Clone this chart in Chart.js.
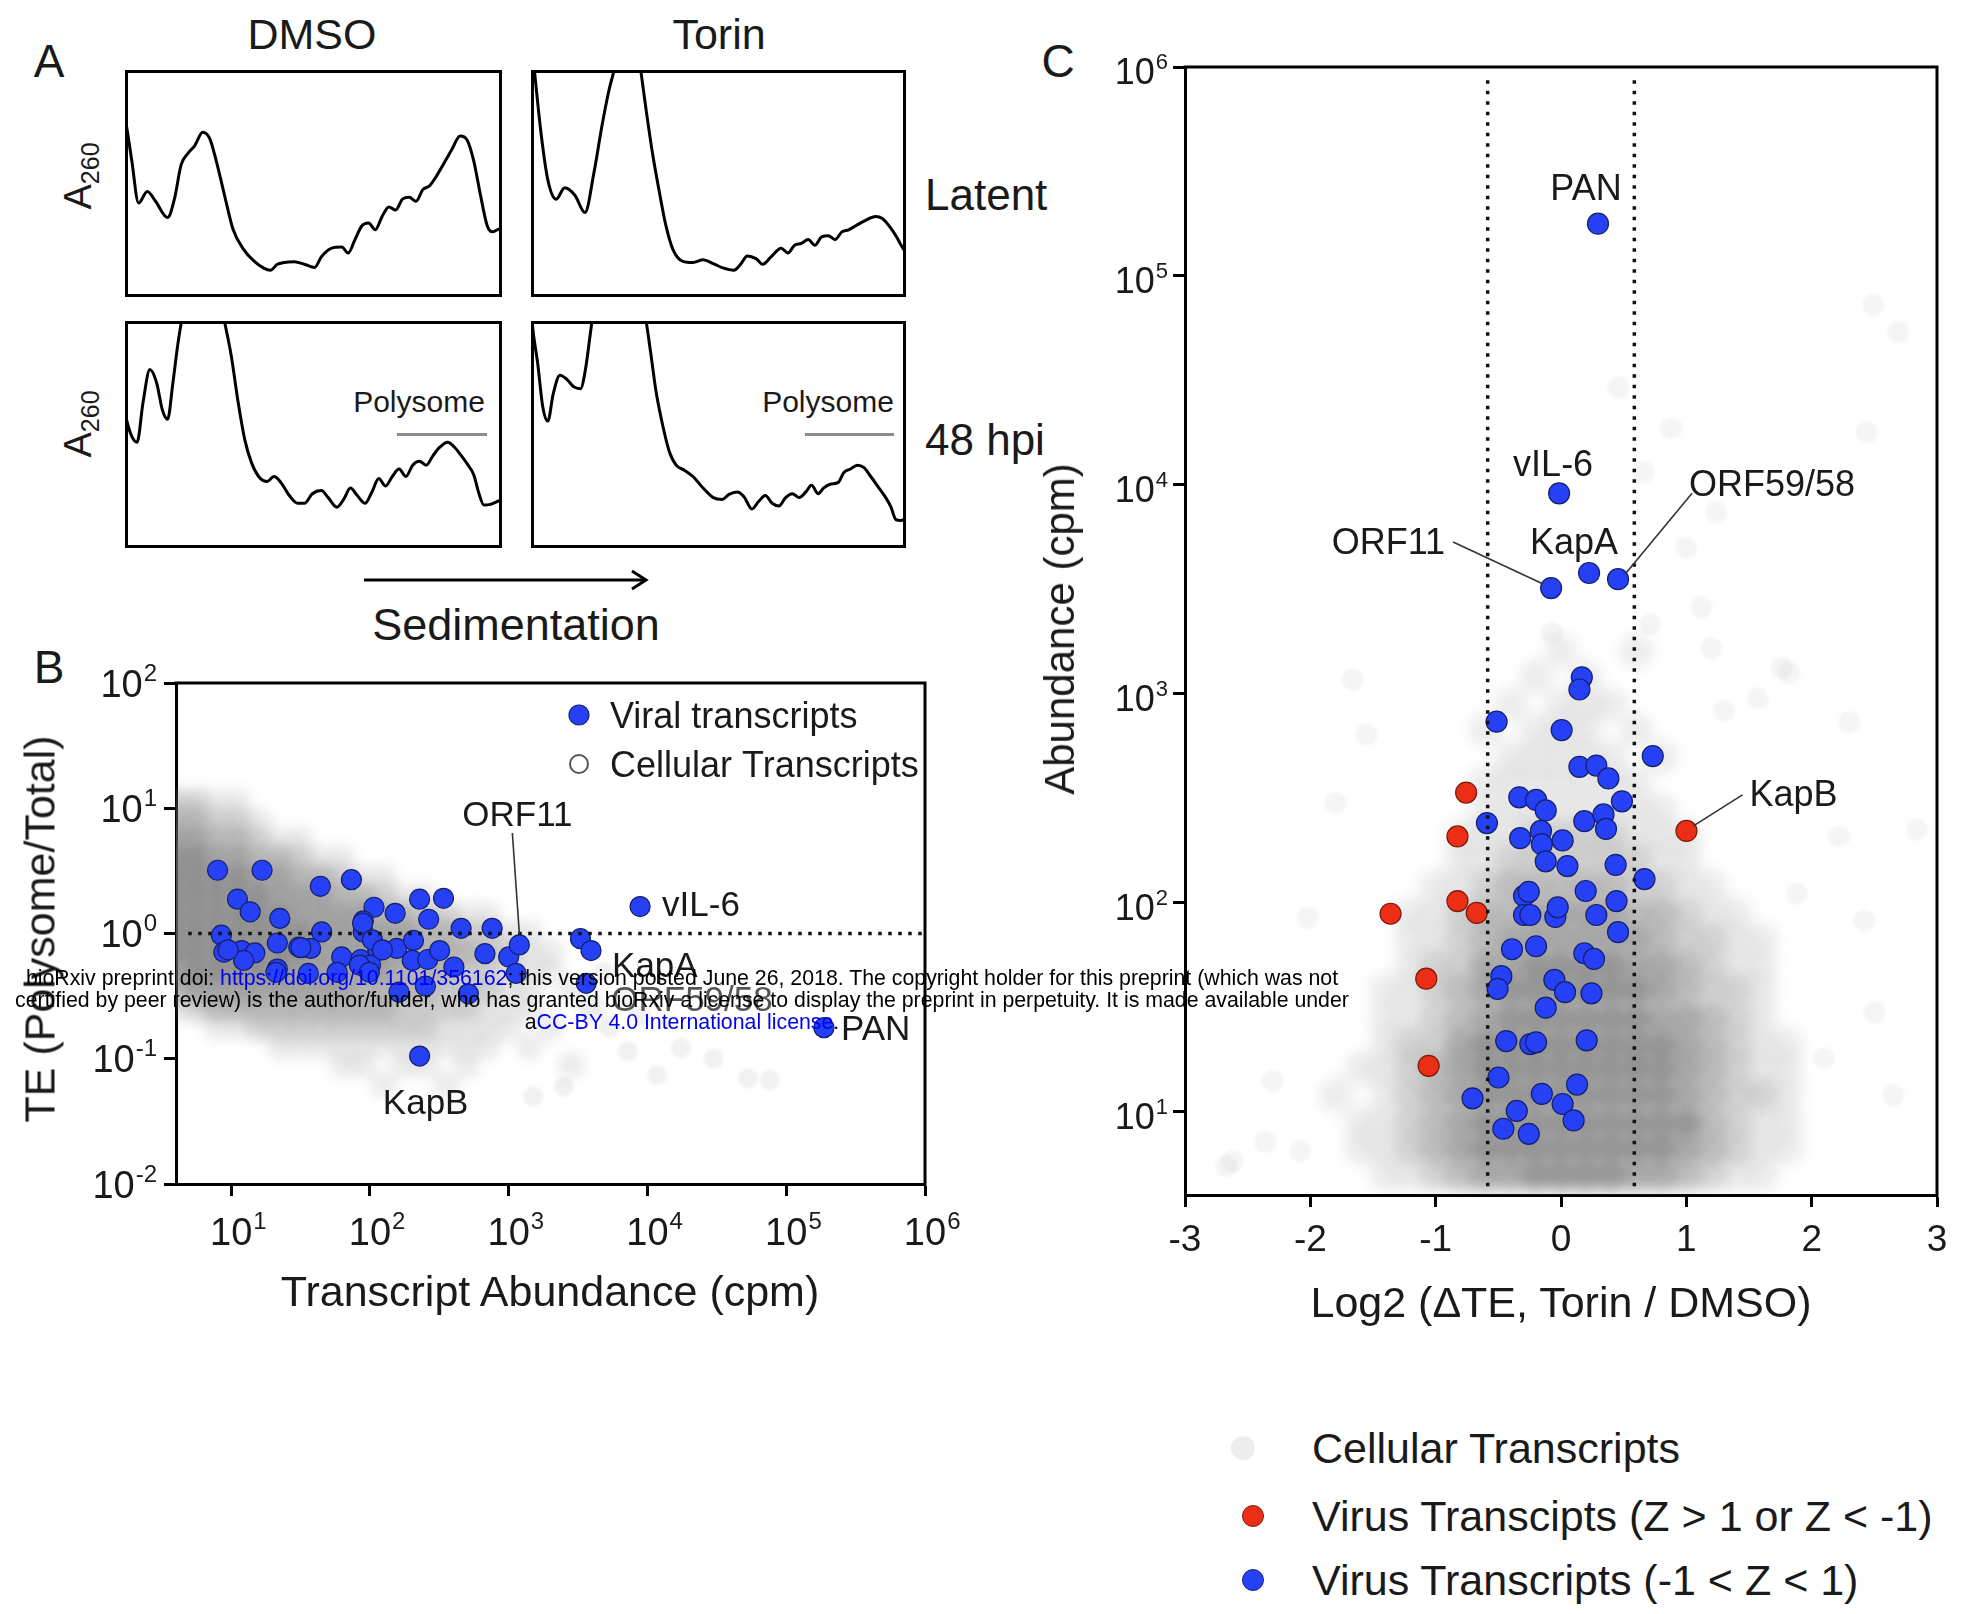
<!DOCTYPE html>
<html>
<head>
<meta charset="utf-8">
<title>Polysome profiles and translation efficiency of KSHV transcripts</title>
<script src="https://cdn.jsdelivr.net/npm/chart.js@4.4.1/dist/chart.umd.min.js"></script>
<style>
  html, body { margin: 0; background: #fff; }
  #fig { position: relative; width: 1969px; height: 1614px; overflow: hidden;
         font-family: "Liberation Sans", Arial, Helvetica, sans-serif; color: #1a1a1a; }
  .t { position: absolute; white-space: nowrap; line-height: 1; transform: translate(-50%, -50%); }
  .l { position: absolute; white-space: nowrap; line-height: 1; transform: translate(0, -50%); }
  .rot { transform: translate(-50%, -50%) rotate(-90deg); }
  canvas { position: absolute; }
  .dot { position: absolute; border-radius: 50%; transform: translate(-50%, -50%); box-sizing: border-box; }
  .bar { position: absolute; height: 3px; background: #8c8c8c; }
  #note { position: absolute; left: 0; top: 967px; width: 1364px; text-align: center; font-size: 21.3px;
          line-height: 22px; color: #000; white-space: nowrap; z-index: 5; }
  #note span.u { color: #0000ee; }
</style>
</head>
<body>
<div id="fig">
  <!-- panel letters -->
  <div class="t" style="left:49px;top:61px;font-size:46px">A</div>
  <div class="t" style="left:49px;top:667px;font-size:46px">B</div>
  <div class="t" style="left:1058px;top:61px;font-size:46px">C</div>

  <!-- panel A labels -->
  <div class="t" style="left:312px;top:34px;font-size:43px">DMSO</div>
  <div class="t" style="left:719px;top:34px;font-size:43px">Torin</div>
  <div class="l" style="left:925px;top:195px;font-size:44px">Latent</div>
  <div class="l" style="left:925px;top:440px;font-size:44px">48 hpi</div>
  <div class="t rot" style="left:81px;top:176px;font-size:38px">A<sub style="font-size:25px">260</sub></div>
  <div class="t rot" style="left:81px;top:424px;font-size:38px">A<sub style="font-size:25px">260</sub></div>
  <div class="t" style="left:419px;top:402px;font-size:30px">Polysome</div>
  <div class="bar" style="left:397px;top:433px;width:90px"></div>
  <div class="t" style="left:828px;top:402px;font-size:30px">Polysome</div>
  <div class="bar" style="left:805px;top:433px;width:89px"></div>
  <svg style="position:absolute;left:0;top:0" width="700" height="620">
    <line x1="364" y1="580" x2="645" y2="580" stroke="#000" stroke-width="3"/>
    <polyline points="632,571 646,580 632,589" fill="none" stroke="#000" stroke-width="3"/>
  </svg>
  <div class="t" style="left:516px;top:624px;font-size:45px">Sedimentation</div>

  <canvas id="aDmsoLatent" width="377" height="227" style="left:125px;top:70px"></canvas>
  <canvas id="aTorinLatent" width="375" height="227" style="left:531px;top:70px"></canvas>
  <canvas id="aDmsoLytic" width="377" height="227" style="left:125px;top:321px"></canvas>
  <canvas id="aTorinLytic" width="375" height="227" style="left:531px;top:321px"></canvas>

  <!-- panel B -->
  <canvas id="panelB" width="1000" height="700" style="left:0;top:650px"></canvas>
  <div class="t rot" style="left:40px;top:929px;font-size:43px">TE (Polysome/Total)</div>
  <div class="t" style="left:550px;top:1291px;font-size:43px">Transcript Abundance (cpm)</div>

  <!-- panel C -->
  <canvas id="panelC" width="949" height="1340" style="left:1020px;top:0"></canvas>
  <div class="t rot" style="left:1060px;top:629px;font-size:42px">Abundance (cpm)</div>
  <div class="t" style="left:1561px;top:1302px;font-size:43px">Log2 (ΔTE, Torin / DMSO)</div>

  <!-- panel C key -->
  <div class="dot" style="left:1243px;top:1448px;width:24px;height:24px;background:#ededed"></div>
  <div class="l" style="left:1312px;top:1448px;font-size:43px">Cellular Transcripts</div>
  <div class="dot" style="left:1253px;top:1516px;width:22px;height:22px;background:rgb(236,46,22);border:1px solid #7a1a0a"></div>
  <div class="l" style="left:1312px;top:1516px;font-size:43px">Virus Transcipts (Z &gt; 1 or Z &lt; -1)</div>
  <div class="dot" style="left:1253px;top:1580px;width:22px;height:22px;background:rgb(38,64,245);border:1px solid #14206e"></div>
  <div class="l" style="left:1312px;top:1580px;font-size:43px">Virus Transcripts (-1 &lt; Z &lt; 1)</div>

  <div id="note">bioRxiv preprint doi: <span class="u">https://doi.org/10.1101/356162</span>; this version posted June 26, 2018. The copyright holder for this preprint (which was not<br>certified by peer review) is the author/funder, who has granted bioRxiv a license to display the preprint in perpetuity. It is made available under<br>a<span class="u">CC-BY 4.0 International license</span>.</div>
</div>

<script>
var FONT = '"Liberation Sans", Arial, Helvetica, sans-serif';
var INK = '#1a1a1a';
var BLUE = 'rgb(38, 64, 245)';
var RED = 'rgb(236, 46, 22)';

// ---- A: A260 traces, position along the gradient (%) and absorbance (% of frame height)
var dmsoLatentPos = [0, 0.4, 1.8, 3.6, 5.9, 8.1, 11.3, 13.1, 14.9, 16.7, 18.5, 20.6, 22.4, 24.2, 26.4, 28.7, 31.4, 34.1, 36.8, 38.6, 40.4, 42.2, 44.9, 47.6, 50.3, 52.1, 54.8, 57.5, 59.2, 61.0, 62.8, 64.6, 66.4, 68.2, 70.0, 71.8, 73.6, 75.4, 77.2, 79.0, 80.8, 82.6, 84.4, 86.7, 88.9, 90.7, 92.5, 94.3, 96.1, 97.5, 98.7, 100];
var dmsoLatentA260 = [78, 75.2, 60.0, 41.4, 46.5, 42.2, 35.0, 43.1, 58.3, 63.3, 66.7, 72.6, 70.1, 60.0, 44.8, 29.6, 21.1, 16.0, 12.7, 11.8, 14.4, 15.2, 15.5, 14.4, 13.0, 17.7, 21.5, 22.0, 19.4, 25.3, 31.3, 32.6, 29.6, 35.5, 39.7, 38.3, 43.1, 43.9, 42.2, 47.3, 49.0, 53.2, 58.3, 65.0, 70.9, 69.3, 60.0, 44.8, 31.3, 28.7, 29.6, 30.4];

var torinLatentPos = [0, 0.9, 2.7, 4.5, 6.7, 9.0, 11.7, 14.4, 16.8, 18.9, 20.7, 22.9, 25.8, 28.8, 30.6, 32.4, 34.2, 36.0, 37.8, 40.5, 43.2, 45.9, 48.6, 51.4, 54.1, 55.9, 57.7, 60.0, 61.8, 64.0, 66.7, 68.5, 70.3, 72.1, 73.9, 75.7, 77.5, 79.3, 81.1, 82.9, 84.7, 86.5, 89.2, 91.9, 93.7, 95.5, 97.3, 98.7, 100];
var torinLatentA260 = [115, 100, 71.8, 51.5, 43.1, 48.1, 44.8, 37.2, 54.9, 75.2, 90.4, 105.6, 140, 105.6, 83.6, 63.3, 46.5, 31.3, 21.1, 15.7, 15.2, 16.4, 14.7, 12.7, 11.8, 14.4, 18.1, 16.9, 14.4, 17.7, 21.5, 19.4, 22.8, 23.6, 25.3, 22.8, 26.5, 27.0, 25.3, 28.7, 29.6, 31.3, 33.8, 35.5, 34.6, 31.3, 27.0, 22.8, 19.4];

var dmsoLyticPos = [0, 0.5, 1.8, 3.2, 4.8, 6.6, 8.4, 9.9, 11.3, 12.7, 14.0, 15.3, 20.6, 26.0, 28.2, 30.0, 31.8, 33.6, 35.9, 37.7, 39.5, 41.3, 43.6, 45.8, 47.6, 49.7, 52.1, 53.9, 56.2, 58.0, 59.8, 61.6, 63.7, 65.5, 67.3, 69.1, 70.9, 72.7, 74.5, 76.3, 78.1, 79.9, 81.7, 83.5, 85.6, 87.4, 89.2, 91.0, 92.5, 93.9, 95.2, 96.9, 100];
var dmsoLyticA260 = [60, 55.9, 49.2, 46.6, 64.3, 78.6, 72.7, 60.9, 56.7, 72.7, 89.6, 103, 150, 103, 84.5, 64.3, 47.5, 37.4, 30.6, 29.3, 31.5, 29.0, 23.1, 19.7, 19.7, 23.9, 25.3, 22.2, 18.0, 21.4, 26.4, 23.1, 19.7, 24.7, 30.6, 27.3, 31.5, 34.8, 31.5, 36.5, 38.2, 36.5, 40.7, 44.4, 46.6, 44.4, 40.7, 36.5, 32.3, 23.9, 18.9, 19.2, 21.4];

var torinLyticPos = [0, 0.5, 1.8, 3.1, 4.5, 5.9, 7.7, 9.5, 11.4, 13.2, 14.6, 15.7, 16.8, 23.4, 30.1, 31.9, 33.3, 35.1, 36.9, 38.7, 40.9, 43.2, 45.9, 48.6, 51.0, 52.8, 55.0, 56.8, 58.9, 60.7, 62.5, 64.3, 66.1, 67.9, 69.7, 71.5, 73.3, 74.8, 76.6, 78.0, 79.8, 82.0, 83.4, 85.2, 87.0, 88.8, 90.6, 92.8, 94.6, 96.0, 97.3, 98.6, 100];
var torinLyticA260 = [105, 96.3, 81.1, 62.6, 55.9, 67.7, 76.1, 74.4, 71.0, 70.2, 79.5, 92.9, 106, 150, 106, 86.2, 69.4, 54.2, 42.4, 36.5, 34.3, 31.5, 26.4, 22.2, 21.4, 23.6, 24.7, 22.6, 17.2, 20.5, 23.1, 19.7, 18.5, 22.2, 23.9, 22.2, 24.7, 27.6, 23.9, 26.4, 28.1, 29.0, 33.2, 34.8, 36.5, 35.4, 31.5, 26.4, 22.2, 18.0, 12.5, 12.1, 13.0];

// ---- B: viral transcripts, abundance (cpm) vs TE
var viralAbundanceB = [7.98, 16.7, 43.9, 73.5, 11.1, 13.7, 22.4, 228, 339, 107, 152, 89.6, 265, 454, 760,
  8.5, 8.85, 11.9, 14.8, 12.3, 21.5, 30.7, 37.4, 44.9, 62.6, 86, 89.5, 114, 156, 206, 202, 261, 318, 403, 674, 1000, 3290,
  21.5, 36, 58, 101, 162, 251, 512, 1130,
  88.5, 104, 123, 84, 99, 31.8, 9.5, 21];
var viralTEB = [3.20, 3.20, 2.38, 2.69, 1.88, 1.49, 1.32, 1.88, 1.91, 1.62, 1.45, 1.26, 1.30, 1.10, 1.10,
  0.97, 0.71, 0.73, 0.70, 0.61, 0.84, 0.78, 0.76, 1.03, 0.65, 0.62, 1.03, 0.73, 0.76, 0.88, 0.61, 0.62, 0.73, 0.54, 0.69, 0.65, 0.91,
  0.52, 0.48, 0.49, 0.56, 0.34, 0.38, 0.33, 0.48,
  1.21, 0.89, 0.74, 0.56, 0.49, 0.77, 0.74, 0.49];
var namesB = ['vIL-6', 'ORF11', 'KapA', 'ORF59/58', 'PAN', 'KapB'];
var namedAbundanceB = [8850, 1193, 3920, 3620, 187000, 228];
var namedTEB = [1.64, 0.81, 0.73, 0.40, 0.177, 0.105];

// cellular transcripts in B, binned: column abundance, row TE, relative density 0-5
var cellAbundanceB = [4.0, 5.6, 7.9, 11.2, 15.8, 22.4, 31.6, 44.7, 63, 89, 126, 178, 251, 355, 501, 708, 1000, 1410, 2000, 2820, 3980];
var cellTEB = [11.2, 7.94, 5.62, 3.98, 2.82, 2.0, 1.41, 1.0, 0.708, 0.501, 0.355, 0.251, 0.178, 0.126, 0.089, 0.063];
var cellDensityB = [
  [2,2,1,1,0,0,0,0,0,0,0,0,0,0,0,0,0,0,0,0,0],
  [3,3,2,2,1,0,0,0,0,0,0,0,0,0,0,0,0,0,0,0,0],
  [4,4,3,3,2,1,1,0,0,0,0,0,0,0,0,0,0,0,0,0,0],
  [5,5,4,4,3,3,2,1,1,0,0,0,0,0,0,0,0,0,0,0,0],
  [5,5,5,5,4,4,3,3,2,1,1,0,0,0,0,0,0,0,0,0,0],
  [5,5,5,5,5,4,4,4,3,3,2,1,1,0,0,0,0,0,0,0,0],
  [5,5,5,5,5,5,4,4,4,4,3,3,2,2,1,1,0,0,0,0,0],
  [5,5,5,5,5,5,5,4,4,4,4,4,3,3,2,2,1,1,0,0,0],
  [5,5,5,5,5,5,5,4,4,4,4,4,3,3,3,2,2,1,1,0,0],
  [4,5,5,5,5,5,4,4,4,4,4,3,3,3,2,2,1,1,1,0,0],
  [3,4,4,4,4,4,4,4,4,3,3,3,3,2,2,2,1,1,0,1,0],
  [1,2,3,3,3,3,3,3,3,3,3,2,2,2,2,1,1,1,0,0,1],
  [0,0,1,1,2,2,2,2,2,2,2,2,2,1,1,1,1,0,1,0,0],
  [0,0,0,0,0,1,1,1,1,1,1,1,1,1,1,1,0,1,0,0,0],
  [0,0,0,0,0,0,0,0,1,1,0,1,1,0,1,0,0,0,0,1,0],
  [0,0,0,0,0,0,0,0,0,0,1,0,0,1,0,0,0,0,0,0,0]
];
var strayAbundanceB = [7200, 17400, 11700, 53000, 76000, 5300, 6500, 9000, 4800, 30000, 2500, 1500];
var strayTEB = [0.115, 0.122, 0.074, 0.07, 0.068, 0.177, 0.3, 0.22, 0.5, 0.1, 0.06, 0.05];

// ---- C: change in TE (log2) vs abundance
var blueLog2C = [0.166, 0.147, -0.514, 0.005, 0.732, 0.147, 0.282, 0.378, -0.333, -0.199, -0.122, 0.486, -0.591, 0.186, 0.339, 0.359, -0.326, -0.160, 0.013, -0.153, -0.122, 0.051, 0.436, 0.666, -0.295, -0.257, 0.197, 0.443, -0.295, -0.245, -0.045, -0.026, 0.282, 0.455, -0.391, -0.199, 0.186, 0.263, -0.476, -0.506, -0.053, 0.032, 0.243, -0.122, -0.437, -0.245, -0.199, 0.205, -0.499, -0.706, -0.153, 0.128, 0.013, -0.353, 0.101, -0.460, -0.257];
var blueAbundanceC = [1200, 1050, 736, 671, 504, 448, 454, 394, 320, 311, 277, 306, 241, 246, 265, 226, 204, 221, 199, 191, 158, 150, 152, 130, 108, 113, 114, 102, 87.5, 87.5, 85.7, 95.2, 87.5, 72.4, 60, 62, 57.4, 53.9, 44.6, 38.8, 42.8, 37.4, 36.9, 31.5, 21.8, 21.1, 21.5, 22.0, 14.6, 11.6, 12.2, 13.5, 10.9, 10.1, 9.1, 8.3, 7.85];
var redLog2C = [-0.757, -0.826, -0.826, -0.672, -1.360, -1.075, -1.056];
var redAbundanceC = [337, 208, 102, 89.5, 88.7, 43.4, 16.6];
var namesC = ['PAN', 'vIL-6', 'KapA', 'ORF11', 'ORF59/58', 'KapB'];
var namedLog2C = [0.295, -0.015, 0.224, -0.079, 0.455, 1.001];
var namedAbundanceC = [178000, 9120, 3790, 3210, 3540, 221];
var namedRedC = [false, false, false, false, false, true];

// cellular transcripts in C, binned: column log2 change, row abundance, relative density 0-5
var cellLog2C = [-2.0, -1.8, -1.6, -1.4, -1.2, -1.0, -0.8, -0.6, -0.4, -0.2, 0, 0.2, 0.4, 0.6, 0.8, 1.0, 1.2, 1.4, 1.6, 1.8, 2.0, 2.2];
var cellAbundanceC = [5, 6.7, 8.9, 12, 16, 21, 28, 38, 50, 67, 89, 120, 160, 210, 280, 380, 500, 670, 890, 1200, 1600];
var cellDensityC = [
  [0,0,0,1,1,2,3,4,4,5,5,5,5,4,4,3,2,1,1,0,0,0],
  [0,0,1,1,2,3,4,5,5,5,5,5,5,5,5,4,3,2,1,1,0,0],
  [0,0,1,1,2,3,4,5,5,5,5,5,5,5,5,5,3,2,1,1,0,0],
  [0,1,0,1,2,3,4,5,5,5,5,5,5,5,5,4,3,2,2,1,0,0],
  [0,0,1,1,2,3,4,5,5,5,5,5,5,5,5,4,3,2,1,1,0,0],
  [0,0,0,1,2,2,4,5,5,5,5,5,5,5,5,4,3,2,1,1,0,0],
  [0,0,0,1,1,2,3,4,5,5,5,5,5,5,4,4,3,2,1,0,0,0],
  [0,0,0,1,1,2,3,4,5,5,5,5,5,5,4,3,2,2,1,0,0,0],
  [0,0,0,0,1,2,2,4,4,5,5,5,5,4,4,3,2,1,1,0,0,0],
  [0,0,0,0,1,1,2,3,4,4,4,4,4,4,3,2,2,1,1,0,0,0],
  [0,0,0,0,1,1,2,3,3,4,4,4,4,3,3,2,1,1,0,0,0,0],
  [0,0,0,0,0,1,1,2,3,3,3,3,3,2,2,1,1,0,0,0,0,0],
  [0,0,0,0,0,0,1,1,2,2,2,2,2,2,1,1,0,0,0,0,0,0],
  [0,0,0,0,0,0,1,1,1,2,2,2,2,1,1,1,0,0,0,0,0,0],
  [0,0,0,0,0,0,0,1,1,1,1,1,1,1,1,0,0,0,0,0,0,0],
  [0,0,0,0,0,0,0,1,1,1,1,1,1,1,0,0,0,0,0,0,0,0],
  [0,0,0,0,0,0,0,0,1,1,1,1,1,0,1,0,0,0,0,0,0,0],
  [0,0,0,0,0,0,0,1,0,1,1,1,0,1,0,0,0,0,0,0,0,0],
  [0,0,0,0,0,0,0,0,1,0,1,1,1,0,0,0,0,0,0,0,0,0],
  [0,0,0,0,0,0,0,0,0,1,0,1,0,0,0,0,0,0,0,0,0,0],
  [0,0,0,0,0,0,0,0,0,0,1,0,0,1,0,0,0,0,0,0,0,0]
];
var strayLog2C = [-2.62, -2.36, -2.08, -2.67, -2.02, -1.66, -1.55, 1.76, 1.57, 1.30, 2.30, 2.84, 2.42, 1.88, 2.22, 1.2, 2.49, 2.69, 2.44, 0.46, 0.88, 1.24, 1.0, 1.12, 0.71, -0.07, 1.82, 0.66, -1.8, -2.3, 2.5, 2.1, -1.9, 2.65];
var strayAbundanceC = [5.8, 7.2, 6.5, 5.5, 85, 1170, 640, 1330, 950, 830, 730, 225, 82, 111, 208, 1650, 72600, 54000, 17900, 29300, 18700, 7400, 5000, 2600, 2150, 1950, 1260, 11500, 300, 14, 30, 18, 40, 12];

// ---------------------------------------------------------------------------
function pairs(xs, ys) {
  return xs.map(function (x, i) { return { x: x, y: ys[i] }; });
}

function gridPoints(cols, rows, density) {
  var pts = [];
  density.forEach(function (row, i) {
    row.forEach(function (n, j) { if (n) pts.push({ x: cols[j], y: rows[i], n: n }); });
  });
  return pts;
}

function shade(c) {
  var n = (c.raw && c.raw.n) || 1;
  return 'rgba(110,110,110,' + Math.min(0.72, 0.135 * n) + ')';
}

var frame = {
  id: 'frame',
  afterDraw: function (chart) {
    var a = chart.chartArea, ctx = chart.ctx;
    ctx.save();
    ctx.strokeStyle = '#000';
    ctx.lineWidth = 3;
    ctx.strokeRect(a.left + 1.5, a.top + 1.5, a.right - a.left - 3, a.bottom - a.top - 3);
    ctx.restore();
  }
};

// top and right edges of the scatter panels (left/bottom come from the axis borders)
var openBox = {
  id: 'openBox',
  afterDraw: function (chart) {
    var a = chart.chartArea, ctx = chart.ctx;
    ctx.save();
    ctx.strokeStyle = '#000';
    ctx.lineWidth = 3;
    ctx.beginPath();
    ctx.moveTo(a.left - 1.5, a.top);
    ctx.lineTo(a.right, a.top);
    ctx.lineTo(a.right, a.bottom + 1.5);
    ctx.stroke();
    ctx.restore();
  }
};

var softCloud = {
  id: 'softCloud',
  beforeDatasetDraw: function (chart, args) {
    var ds = chart.data.datasets[args.index];
    if (ds.blur) { chart.ctx.save(); chart.ctx.filter = 'blur(' + ds.blur + 'px)'; }
  },
  afterDatasetDraw: function (chart, args) {
    if (chart.data.datasets[args.index].blur) chart.ctx.restore();
  }
};

function drawPower(ctx, value, x, y, size, anchor) {
  var exp = String(Math.round(Math.log10(value)));
  var sup = Math.round(size * 0.62);
  ctx.font = size + 'px ' + FONT;
  var wBase = ctx.measureText('10').width;
  ctx.font = sup + 'px ' + FONT;
  var wExp = ctx.measureText(exp).width;
  var left = anchor === 'right' ? x - wBase - wExp - 1 : x - wBase / 2;
  ctx.textAlign = 'left';
  ctx.textBaseline = 'alphabetic';
  ctx.fillStyle = INK;
  ctx.font = size + 'px ' + FONT;
  ctx.fillText('10', left, y + size * 0.358);
  ctx.font = sup + 'px ' + FONT;
  ctx.fillText(exp, left + wBase + 1, y + size * 0.358 - size * 0.42);
}

function annotate(chart, names, xs, ys, layout, size) {
  var ctx = chart.ctx, sx = chart.scales.x, sy = chart.scales.y;
  ctx.save();
  names.forEach(function (name, i) {
    var lab = layout[name];
    var px = sx.getPixelForValue(xs[i]), py = sy.getPixelForValue(ys[i]);
    if (lab.leader) {
      ctx.strokeStyle = '#333';
      ctx.lineWidth = 1.6;
      ctx.beginPath();
      ctx.moveTo(px + lab.leader[0], py + lab.leader[1]);
      ctx.lineTo(px + lab.leader[2], py + lab.leader[3]);
      ctx.stroke();
    }
    ctx.font = size + 'px ' + FONT;
    ctx.fillStyle = lab.color || INK;
    ctx.textAlign = lab.align;
    ctx.textBaseline = 'alphabetic';
    ctx.fillText(name, px + lab.dx, py + lab.dy + size * 0.358);
  });
  ctx.restore();
}

function baseOptions(padding) {
  return {
    responsive: false, animation: false, devicePixelRatio: 1,
    layout: { padding: padding, autoPadding: false },
    plugins: { legend: { display: false }, tooltip: { enabled: false } }
  };
}

// ---- A
function profileChart(id, pos, a260) {
  var opts = baseOptions(0);
  opts.scales = {
    x: { type: 'linear', min: 0, max: 100, display: false },
    y: { type: 'linear', min: 0, max: 100, display: false }
  };
  new Chart(document.getElementById(id), {
    type: 'line',
    data: { datasets: [{ data: pairs(pos, a260), borderColor: '#000', borderWidth: 3, pointRadius: 0,
                         cubicInterpolationMode: 'monotone', fill: false }] },
    options: opts,
    plugins: [frame]
  });
}
profileChart('aDmsoLatent', dmsoLatentPos, dmsoLatentA260);
profileChart('aTorinLatent', torinLatentPos, torinLatentA260);
profileChart('aDmsoLytic', dmsoLyticPos, dmsoLyticA260);
profileChart('aTorinLytic', torinLyticPos, torinLyticA260);

function axisStyle(extra) {
  var s = {
    border: { display: true, color: '#000', width: 3 },
    grid: { display: true, drawOnChartArea: false, drawTicks: true, tickLength: 12, tickWidth: 3, color: '#000' },
    ticks: { display: false }
  };
  for (var k in extra) s[k] = extra[k];
  return s;
}

// ---- B
var labelsB = {
  'vIL-6':    { dx: 22, dy: -3, align: 'left' },
  'ORF11':    { dx: -2, dy: -131, align: 'center', leader: [-7, -112, 0, -11] },
  'KapA':     { dx: 21, dy: 14, align: 'left' },
  'ORF59/58': { dx: 25, dy: 15, align: 'left', color: '#555' },
  'PAN':      { dx: 17, dy: 0, align: 'left' },
  'KapB':     { dx: 6, dy: 45, align: 'center' }
};

var optsB = baseOptions({ left: 156, right: 75, top: 33, bottom: 146 });
optsB.scales = {
  x: axisStyle({ type: 'logarithmic', min: 4, max: 1e6,
    afterBuildTicks: function (s) { s.ticks = [10, 100, 1e3, 1e4, 1e5, 1e6].map(function (v) { return { value: v }; }); },
    afterFit: function (s) { s.height = 20; } }),
  y: axisStyle({ type: 'logarithmic', min: 0.01, max: 100,
    afterBuildTicks: function (s) { s.ticks = [0.01, 0.1, 1, 10, 100].map(function (v) { return { value: v }; }); },
    afterFit: function (s) { s.width = 20; } })
};

new Chart(document.getElementById('panelB'), {
  type: 'scatter',
  data: { datasets: [
    { label: 'TE = 1', data: [{ x: 4.9, y: 1 }, { x: 1e6, y: 1 }], showLine: true, borderColor: '#111',
      borderWidth: 3.5, borderDash: [3.5, 6.5], pointRadius: 0, order: 0 },
    { label: 'Viral transcripts', data: pairs(viralAbundanceB.concat(namedAbundanceB), viralTEB.concat(namedTEB)),
      backgroundColor: BLUE, borderColor: '#14206e', borderWidth: 1.2, pointRadius: 10, order: 1 },
    { label: 'Cellular Transcripts', data: gridPoints(cellAbundanceB, cellTEB, cellDensityB),
      backgroundColor: shade, borderWidth: 0, pointRadius: 14, blur: 6, order: 2 },
    { label: 'Cellular Transcripts (sparse)', data: pairs(strayAbundanceB, strayTEB),
      backgroundColor: 'rgba(120,120,120,0.1)', borderWidth: 0, pointRadius: 10, blur: 1.5, order: 3 }
  ] },
  options: optsB,
  plugins: [softCloud, openBox, {
    id: 'decorB',
    afterDraw: function (chart) {
      var ctx = chart.ctx, a = chart.chartArea, sx = chart.scales.x, sy = chart.scales.y;
      sy.ticks.forEach(function (t) { drawPower(ctx, t.value, a.left - 19, sy.getPixelForValue(t.value), 38, 'right'); });
      sx.ticks.forEach(function (t) { drawPower(ctx, t.value, sx.getPixelForValue(t.value), a.bottom + 47, 38, 'center'); });
      annotate(chart, namesB, namedAbundanceB, namedTEB, labelsB, 35);
      // key
      ctx.save();
      ctx.fillStyle = BLUE; ctx.strokeStyle = '#14206e'; ctx.lineWidth = 1.2;
      ctx.beginPath(); ctx.arc(a.left + 403, a.top + 32, 10, 0, Math.PI * 2); ctx.fill(); ctx.stroke();
      ctx.fillStyle = '#fff'; ctx.strokeStyle = '#555'; ctx.lineWidth = 2;
      ctx.beginPath(); ctx.arc(a.left + 403, a.top + 81, 9, 0, Math.PI * 2); ctx.fill(); ctx.stroke();
      ctx.fillStyle = INK; ctx.font = '36px ' + FONT; ctx.textAlign = 'left'; ctx.textBaseline = 'alphabetic';
      ctx.fillText('Viral transcripts', a.left + 434, a.top + 32 + 13);
      ctx.fillText('Cellular Transcripts', a.left + 434, a.top + 81 + 13);
      ctx.restore();
    }
  }]
});

// ---- C
var labelsC = {
  'PAN':      { dx: -12, dy: -37, align: 'center' },
  'vIL-6':    { dx: -6, dy: -30, align: 'center' },
  'KapA':     { dx: -15, dy: -32, align: 'center' },
  'ORF11':    { dx: -106, dy: -47, align: 'right', leader: [-98, -46, -8, -4] },
  'ORF59/58': { dx: 71, dy: -96, align: 'left', leader: [74, -86, 7, -5] },
  'KapB':     { dx: 63, dy: -38, align: 'left', leader: [56, -36, 7, -5] }
};

var optsC = baseOptions({ left: 145, right: 32, top: 67, bottom: 125 });
optsC.scales = {
  x: axisStyle({ type: 'linear', min: -3, max: 3,
    afterBuildTicks: function (s) { s.ticks = [-3, -2, -1, 0, 1, 2, 3].map(function (v) { return { value: v }; }); },
    afterFit: function (s) { s.height = 20; } }),
  y: axisStyle({ type: 'logarithmic', min: 4, max: 1e6,
    afterBuildTicks: function (s) { s.ticks = [10, 100, 1e3, 1e4, 1e5, 1e6].map(function (v) { return { value: v }; }); },
    afterFit: function (s) { s.width = 20; } })
};

var namedBlue = [], namedRed = [];
namesC.forEach(function (n, i) {
  (namedRedC[i] ? namedRed : namedBlue).push({ x: namedLog2C[i], y: namedAbundanceC[i] });
});
var cut = 0.585; // 1.5-fold change

new Chart(document.getElementById('panelC'), {
  type: 'scatter',
  data: { datasets: [
    { label: 'lower cut', data: [{ x: -cut, y: 4.4 }, { x: -cut, y: 9e5 }], showLine: true, borderColor: '#111',
      borderWidth: 3.5, borderDash: [3.5, 7], pointRadius: 0, order: 0 },
    { label: 'upper cut', data: [{ x: cut, y: 4.4 }, { x: cut, y: 9e5 }], showLine: true, borderColor: '#111',
      borderWidth: 3.5, borderDash: [3.5, 7], pointRadius: 0, order: 0 },
    { label: 'Virus Transcripts (-1 < Z < 1)', data: pairs(blueLog2C, blueAbundanceC).concat(namedBlue),
      backgroundColor: BLUE, borderColor: '#14206e', borderWidth: 1.2, pointRadius: 10.5, order: 1 },
    { label: 'Virus Transcipts (Z > 1 or Z < -1)', data: pairs(redLog2C, redAbundanceC).concat(namedRed),
      backgroundColor: RED, borderColor: '#7a1a0a', borderWidth: 1.2, pointRadius: 10.5, order: 1 },
    { label: 'Cellular Transcripts', data: gridPoints(cellLog2C, cellAbundanceC, cellDensityC),
      backgroundColor: shade, borderWidth: 0, pointRadius: 17, blur: 7, order: 2 },
    { label: 'Cellular Transcripts (sparse)', data: pairs(strayLog2C, strayAbundanceC),
      backgroundColor: 'rgba(120,120,120,0.07)', borderWidth: 0, pointRadius: 11, blur: 1.5, order: 3 }
  ] },
  options: optsC,
  plugins: [softCloud, openBox, {
    id: 'decorC',
    afterDraw: function (chart) {
      var ctx = chart.ctx, a = chart.chartArea, sx = chart.scales.x, sy = chart.scales.y;
      sy.ticks.forEach(function (t) { drawPower(ctx, t.value, a.left - 17, sy.getPixelForValue(t.value) + 4, 36, 'right'); });
      ctx.save();
      ctx.fillStyle = INK; ctx.font = '37px ' + FONT; ctx.textAlign = 'center'; ctx.textBaseline = 'alphabetic';
      sx.ticks.forEach(function (t) { ctx.fillText(String(t.value), sx.getPixelForValue(t.value), a.bottom + 43 + 37 * 0.358); });
      ctx.restore();
      annotate(chart, namesC, namedLog2C, namedAbundanceC, labelsC, 36);
    }
  }]
});
</script>
</body>
</html>
